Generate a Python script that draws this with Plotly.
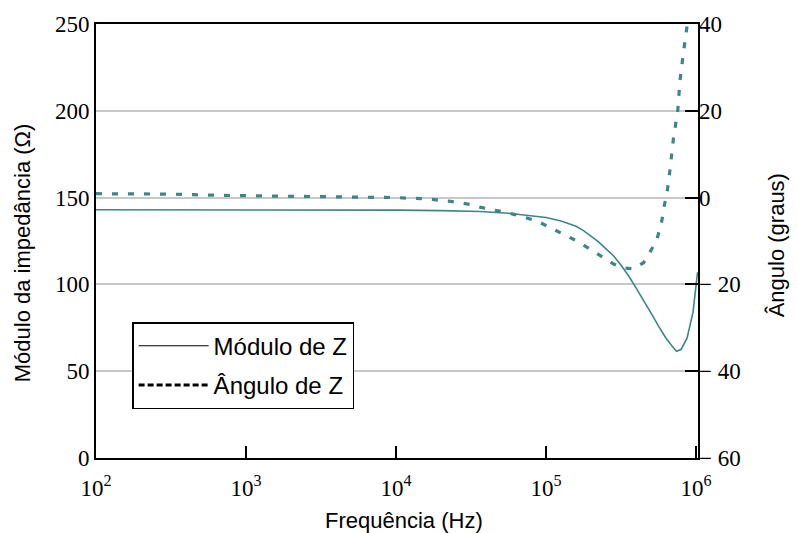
import plotly.graph_objects as go

# Frequency (Hz) for the magnitude curve
freq_mag = [100, 1000, 10000, 20000, 36300, 56200, 79400, 100000, 125900, 158500,
            177800, 199500, 223900, 251200, 281800, 316200, 354800, 398100, 446700,
            501200, 562300, 631000, 691800, 741300, 794300, 870900, 955000, 1023000]
mag = [143.0, 143.0, 142.8, 142.5, 142.0, 141.0, 139.6, 138.5, 136.5, 133.5,
       131.0, 128.0, 124.5, 120.5, 116.5, 111.0, 105.0, 98.0, 91.0,
       83.5, 76.0, 69.0, 64.5, 61.5, 62.5, 69.0, 84.0, 107.0]

# Frequency (Hz) for the angle curve
freq_ang = [100, 316, 708, 3162, 10000, 15850, 22390, 31620, 36300, 50100, 60300,
            87100, 123000, 158500, 199500, 251200, 281800, 331100, 380200, 446700,
            489800, 549500, 588800, 616600, 636800, 671400, 706300, 755100, 781600,
            822200, 875000]
ang = [0.9, 0.8, 0.5, 0.2, 0.0, -0.3, -0.8, -1.6, -2.2, -3.2, -3.8,
       -5.4, -7.9, -9.9, -12.0, -14.1, -15.3, -16.2, -16.4, -15.0,
       -12.8, -9.5, -5.7, -1.5, 0.4, 6.6, 13.6, 20.0, 27.0,
       33.2, 40.0]

y_ticks = [0, 50, 100, 150, 200, 250]
y2_ticks = [40, 20, 0, -20, -40, -60]
y2_text = ["40", "20", "0", "\u2212 20", "\u2212 40", "\u2212 60"]
x_ticks = [1e2, 1e3, 1e4, 1e5, 1e6]
x_text = ["10<sup>2</sup>", "10<sup>3</sup>", "10<sup>4</sup>", "10<sup>5</sup>", "10<sup>6</sup>"]

teal = "#3b8783"
serif = "Liberation Serif"
sans = "Liberation Sans"

fig = go.Figure()
fig.add_trace(go.Scatter(x=freq_mag, y=mag, mode="lines", line=dict(color=teal, width=1.6),
                         showlegend=False, yaxis="y"))
fig.add_trace(go.Scatter(x=freq_ang, y=ang, mode="lines",
                         line=dict(color=teal, width=3.2, dash="6px,10px"),
                         showlegend=False, yaxis="y2"))
# legend entries (black samples as in the reference)
fig.add_trace(go.Scatter(x=[None], y=[None], mode="lines", name="Módulo de Z",
                         line=dict(color="black", width=1.2), legendgroup="a"))
fig.add_trace(go.Scatter(x=[None], y=[None], mode="lines", name="Ângulo de Z",
                         line=dict(color="black", width=3, dash="6px,3px"), legendgroup="b"))

fig.update_layout(
    width=798, height=533,
    margin=dict(l=96, r=100, t=24, b=75),
    plot_bgcolor="white", paper_bgcolor="white",
    xaxis=dict(type="log", range=[2, 6.013], tickvals=x_ticks, ticktext=x_text,
               ticks="inside", ticklen=12, tickwidth=1.5, tickcolor="black",
               showline=True, linecolor="black", linewidth=2, mirror=True,
               showgrid=False, zeroline=False, ticklabelstandoff=8,
               tickfont=dict(family=serif, size=23, color="black")),
    yaxis=dict(range=[0, 250], tickvals=y_ticks, ticks="",
               showline=True, linecolor="black", linewidth=2, mirror=True,
               showgrid=True, gridcolor="#c8c8c8", gridwidth=1.5, zeroline=False,
               ticklabelstandoff=0,
               tickfont=dict(family=serif, size=23, color="black")),
    yaxis2=dict(range=[-60, 40], overlaying="y", side="right", tickvals=y2_ticks,
                ticktext=y2_text, ticks="inside", ticklen=13, tickwidth=2, tickcolor="black",
                showgrid=False, zeroline=False, showline=False, ticklabelstandoff=0,
                tickfont=dict(family=serif, size=23, color="black")),
    legend=dict(x=0.06, y=0.313, xanchor="left", yanchor="top",
                bordercolor="black", borderwidth=1.5, bgcolor="white",
                font=dict(family=sans, size=24, color="black"),
                itemwidth=70, entrywidth=240,
                traceorder="grouped", tracegroupgap=5),
    annotations=[
        dict(text="Módulo da impedância (Ω)", x=-0.123, y=0.474, xref="paper", yref="paper",
             textangle=-90, showarrow=False, xanchor="center", yanchor="middle",
             font=dict(family=sans, size=22, color="black")),
        dict(text="Ângulo (graus)", x=1.1296, y=0.49, xref="paper", yref="paper",
             textangle=-90, showarrow=False, xanchor="center", yanchor="middle",
             font=dict(family=sans, size=22, color="black")),
        dict(text="Frequência (Hz)", x=0.5116, y=-0.145, xref="paper", yref="paper",
             showarrow=False, xanchor="center", yanchor="middle",
             font=dict(family=sans, size=22, color="black")),
    ],
)

fig.write_html("out.html")
